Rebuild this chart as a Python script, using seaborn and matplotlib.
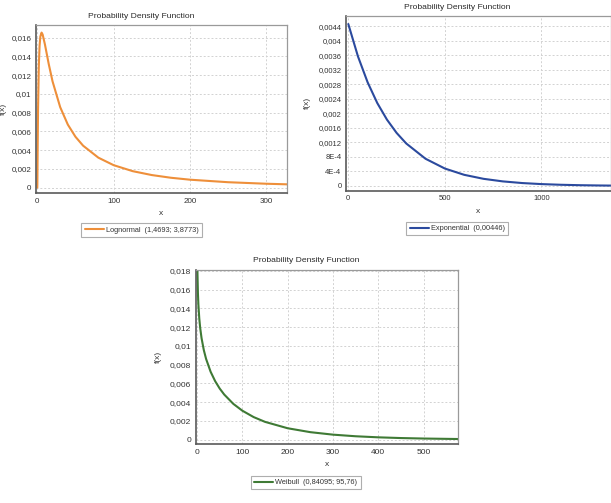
import matplotlib
matplotlib.use("Agg")
import matplotlib.pyplot as plt
import seaborn as sns
from matplotlib.ticker import AutoMinorLocator

# values
logn_x = [0, 0.1, 0.2, 0.5, 1, 2, 3, 4, 5.6, 7, 10, 15, 20, 30, 40, 50, 60, 80,
          100, 125, 150, 175, 200, 250, 300, 327]
logn_y = [0, 0.00039, 0.00127, 0.0043, 0.00835, 0.01297, 0.01514, 0.01613, 0.01655,
          0.01635, 0.01529, 0.01319, 0.01134, 0.00859, 0.00673, 0.00543, 0.00448,
          0.0032, 0.0024, 0.00176, 0.001344, 0.001057, 0.00085, 0.000581, 0.000418,
          0.000356]

expo_x = [0, 50, 100, 150, 200, 250, 300, 400, 500, 600, 700, 800, 900, 1000,
          1100, 1200, 1300, 1360]
expo_y = [0.00446, 0.003568, 0.002855, 0.002284, 0.001828, 0.001462, 0.00117,
          0.000749, 0.00048, 0.000307, 0.000197, 0.000126, 0.0000806, 0.0000516,
          0.000033, 0.0000211, 0.0000135, 0.0000103]

weib_x = [0.5, 1, 2, 3, 5, 7, 10, 15, 20, 30, 40, 50, 60, 80, 100, 125, 150, 200,
          250, 300, 350, 400, 450, 500, 575]
weib_y = [0.02001, 0.017755, 0.015633, 0.014428, 0.012919, 0.011917, 0.010832,
          0.009556, 0.008618, 0.007247, 0.006244, 0.005458, 0.004817, 0.003825,
          0.003092, 0.002409, 0.001902, 0.001219, 0.000802, 0.000537, 0.000365,
          0.000251, 0.000174, 0.000122, 0.0000722]

logn_xticks = [0, 100, 200, 300]
logn_yticks = [0, 0.002, 0.004, 0.006, 0.008, 0.01, 0.012, 0.014, 0.016]
logn_ylabels = ["0", "0,002", "0,004", "0,006", "0,008", "0,01", "0,012", "0,014", "0,016"]

expo_xticks = [0, 500, 1000]
expo_yticks = [0, 0.0004, 0.0008, 0.0012, 0.0016, 0.002, 0.0024, 0.0028, 0.0032,
               0.0036, 0.004, 0.0044]
expo_ylabels = ["0", "4E-4", "8E-4", "0,0012", "0,0016", "0,002", "0,0024", "0,0028",
                "0,0032", "0,0036", "0,004", "0,0044"]

weib_xticks = [0, 100, 200, 300, 400, 500]
weib_yticks = [0, 0.002, 0.004, 0.006, 0.008, 0.01, 0.012, 0.014, 0.016, 0.018]
weib_ylabels = ["0", "0,002", "0,004", "0,006", "0,008", "0,01", "0,012", "0,014",
                "0,016", "0,018"]

sns.set_style("white")
plt.rcParams['font.family'] = ['Liberation Sans', 'DejaVu Sans']

fig = plt.figure(figsize=(6.11, 5.03), dpi=100)


def draw_panel(rect, xs, ys, color, name, xticks, yticks, ylabels, xlim, ylim,
               ylab_x, leg_y, title_y, tick_fs):
	ax = fig.add_axes(rect)
	sns.lineplot(x=xs, y=ys, color=color, linewidth=1.5, ax=ax, label=name)
	ax.set_xlim(*xlim)
	ax.set_ylim(*ylim)
	ax.set_xticks(xticks)
	ax.set_xticklabels([str(t) for t in xticks])
	ax.set_yticks(yticks)
	ax.set_yticklabels(ylabels)
	ax.xaxis.set_minor_locator(AutoMinorLocator(4))
	ax.tick_params(axis='both', which='major', labelsize=tick_fs, colors='#333333',
		length=2.5, width=0.7, pad=0.8, direction='out')
	ax.tick_params(axis='x', which='minor', length=2, width=0.6, colors='#666666',
		direction='in')
	ax.grid(True, which='major', color='#d2d2d2', linestyle=(0, (2, 2)), linewidth=0.7)
	ax.set_facecolor('white')
	for side in ['left', 'bottom']:
		ax.spines[side].set_color('#5a5a5a')
		ax.spines[side].set_linewidth(1.2)
	for side in ['top', 'right']:
		ax.spines[side].set_color('#9a9a9a')
		ax.spines[side].set_linewidth(0.9)
	ax.set_xlabel('x', fontsize=6.0, color='#333333')
	ax.set_ylabel('f(x)', fontsize=6.0, color='#333333')
	ax.xaxis.set_label_coords(0.5, -0.10)
	ax.yaxis.set_label_coords(ylab_x, 0.5)
	ax.text(0.42, title_y, 'Probability Density Function', transform=ax.transAxes,
		ha='center', va='center', fontsize=6.1, color='#2a2a2a')
	leg = ax.legend(loc='upper center', bbox_to_anchor=(0.42, leg_y), fontsize=5.3,
		frameon=True, fancybox=False, edgecolor='#9a9a9a', handlelength=2.6,
		borderpad=0.45, handletextpad=0.25, borderaxespad=0)
	leg.get_frame().set_linewidth(0.8)
	for t in leg.get_texts():
		t.set_color('#333333')
	return ax


draw_panel([0.0589, 0.6163, 0.4108, 0.334], logn_x, logn_y, '#ee8f3a',
	'Lognormal  (1,4693; 3,8773)', logn_xticks, logn_yticks, logn_ylabels,
	(-1.7, 327), (-0.00057, 0.01736), -0.115, -0.179, 1.048, 5.8)

draw_panel([0.5663, 0.6209, 0.4330, 0.3479], expo_x, expo_y, '#2b4a9e',
	'Exponential  (0,00446)', expo_xticks, expo_yticks, expo_ylabels,
	(-11.9, 1358), (-0.00013, 0.00469), -0.132, -0.177, 1.048, 5.5)

draw_panel([0.3203, 0.1173, 0.4288, 0.3459], weib_x, weib_y, '#3f7a35',
	'Weibull  (0,84095; 95,76)', weib_xticks, weib_yticks, weib_ylabels,
	(-2.9, 575), (-0.00046, 0.0181), -0.128, -0.182, 1.052, 6.0)

fig.savefig('out.png', dpi=100, facecolor='white')
